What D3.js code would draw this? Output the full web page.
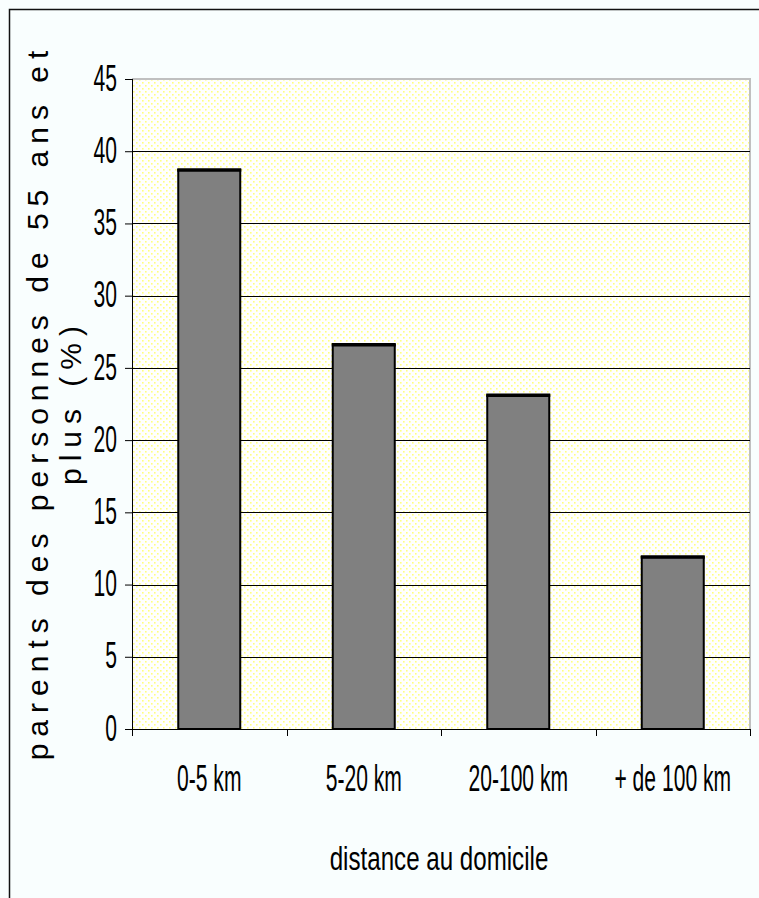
<!DOCTYPE html>
<html><head><meta charset="utf-8">
<script src="https://cdn.jsdelivr.net/npm/d3@7"></script>
<style>html,body{margin:0;padding:0;background:#f9fefe;}</style>
</head><body>
<svg id="c" width="759" height="898"></svg>
<script>
const categories = ["0-5 km", "5-20 km", "20-100 km", "+ de 100 km"];
const values = [38.7, 26.6, 23.1, 11.9];
const yTicks = [0, 5, 10, 15, 20, 25, 30, 35, 40, 45];
const yTitle1 = "parents des personnes de 55 ans et";
const yTitle2 = "plus (%)";
const xTitle = "distance au domicile";

const svg = d3.select("#c");
const L = 132, R = 750, T = 79, B = 729;
const sans = "'Liberation Sans', Arial, sans-serif";

// outer frame
svg.append("rect").attr("x",0).attr("y",0).attr("width",759).attr("height",898).attr("fill","#f9fefe");
svg.append("path").attr("d","M9.5,898 V9.5 H759").attr("fill","none").attr("stroke","#111").attr("stroke-width",1.5);

const defs = svg.append("defs");
const pat = defs.append("pattern").attr("id","dots").attr("patternUnits","userSpaceOnUse")
  .attr("width",6).attr("height",6);
pat.append("rect").attr("width",6).attr("height",6).attr("fill","#ffffff");
pat.append("rect").attr("x",1).attr("y",1).attr("width",1.6).attr("height",1.6).attr("fill","#ffff80");
pat.append("rect").attr("x",4).attr("y",4).attr("width",1.6).attr("height",1.6).attr("fill","#ffff80");

const xb = d3.scaleBand().domain(categories).range([L, R]);
const y = d3.scaleLinear().domain([0, 45]).range([B, T]);

svg.append("rect").attr("x",L).attr("y",T).attr("width",R-L).attr("height",B-T).attr("fill","url(#dots)");
// gray top/right border
svg.append("path").attr("d",`M${L},${T} H${R} V${B}`).attr("fill","none").attr("stroke","#c0c0c0").attr("stroke-width",2);

// gridlines
svg.append("g").selectAll("line").data(yTicks.filter(t => t > 0 && t < 45)).join("line")
  .attr("x1",L).attr("x2",R).attr("y1",d=>Math.round(y(d))+0.5).attr("y2",d=>Math.round(y(d))+0.5)
  .attr("stroke","#000").attr("stroke-width",1);

// bars
const barW = 62;
svg.append("g").selectAll("rect").data(values).join("rect")
  .attr("x",(d,i)=>xb(categories[i]) + xb.bandwidth()/2 - barW/2)
  .attr("y",d=>y(d)).attr("width",barW).attr("height",d=>B-y(d))
  .attr("fill","#808080").attr("stroke","#000").attr("stroke-width",2);
svg.append("g").selectAll("line").data(values).join("line")
  .attr("x1",(d,i)=>xb(categories[i]) + xb.bandwidth()/2 - barW/2 - 1)
  .attr("x2",(d,i)=>xb(categories[i]) + xb.bandwidth()/2 + barW/2 + 1)
  .attr("y1",d=>y(d)).attr("y2",d=>y(d)).attr("stroke","#000").attr("stroke-width",3.5);

const sx = 0.57;
// y axis
const yAxis = d3.axisLeft(y).tickValues(yTicks).tickSize(7).tickPadding(8).tickFormat(d3.format("d"));
const gy = svg.append("g").attr("transform",`translate(${L},0)`).call(yAxis);
gy.select(".domain").attr("stroke","#000").attr("stroke-width",1).attr("d",`M0.5,${T}V${B}`);
gy.selectAll(".tick line").attr("stroke","#000");
gy.selectAll(".tick text").attr("font-family",sans).attr("font-size",37).attr("fill","#000")
  .attr("x",-15/sx).attr("dy","0.3em").attr("transform",`scale(${sx},1)`);

// x axis
const xAxis = d3.axisBottom(xb).tickSize(0).tickPadding(0);
const gx = svg.append("g").attr("transform",`translate(0,${B})`).call(xAxis);
gx.select(".domain").attr("stroke","#000").attr("stroke-width",1).attr("d",`M${L},0.5H${R}`);
gx.selectAll(".tick text").attr("font-family",sans).attr("font-size",37).attr("fill","#000")
  .attr("dy",0).attr("y",62).attr("transform",`scale(${sx},1)`);
// x tick marks at band boundaries
svg.append("g").selectAll("line").data(categories.concat(["end"])).join("line")
  .attr("x1",(d,i)=>Math.round(L + i*xb.bandwidth())+0.5).attr("x2",(d,i)=>Math.round(L + i*xb.bandwidth())+0.5)
  .attr("y1",B).attr("y2",B+7).attr("stroke","#000");

// titles
svg.append("text").attr("transform","translate(439,870) scale(0.71,1)").attr("text-anchor","middle")
  .attr("font-family",sans).attr("font-size",34).attr("fill","#000").text(xTitle);
const yt = svg.append("text").attr("transform","translate(0,402) rotate(-90)")
  .attr("text-anchor","middle").attr("font-family",sans)
  .attr("font-size",30).attr("fill","#000").attr("letter-spacing",7);
yt.append("tspan").attr("x",0).attr("y",48).text(yTitle1);
yt.append("tspan").attr("x",0).attr("y",81).text(yTitle2);
</script>
</body></html>
